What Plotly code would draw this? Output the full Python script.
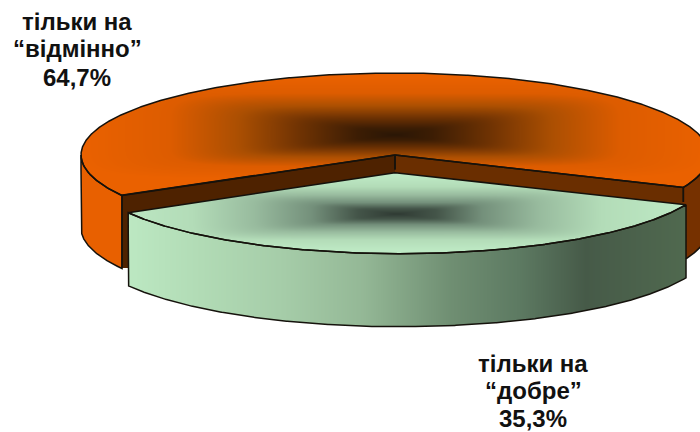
import numpy as np
import plotly.graph_objects as go

# data
category_lines = [["тільки на", "“відмінно”"], ["тільки на", "“добре”"]]
values = [64.7, 35.3]

# styling / geometry
W, H = 700, 432
START = 240.4
DEPTH = 73
OUT = "#15120c"

def arc(cx, cy, rx, ry, a0, a1, n=160):
    a = np.radians(np.linspace(a0, a1, n))
    return cx + rx * np.sin(a), cy - ry * np.cos(a)

def mask_poly(px, py, X, Y):
    inside = np.zeros(np.shape(X), bool)
    j = len(px) - 1
    for i in range(len(px)):
        xi, yi, xj, yj = px[i], py[i], px[j], py[j]
        if yi != yj:
            c = ((yi > Y) != (yj > Y)) & (X < (xj - xi) * (Y - yi) / (yj - yi) + xi)
            inside ^= c
        j = i
    return inside

xs = np.arange(W) + 0.5
ys = np.arange(H) + 0.5
X, Y = np.meshgrid(xs, ys)

fig = go.Figure()

def grad(px, py, Z, stops):
    m = mask_poly(px, py, X, Y)
    r, c = np.where(m)
    r0, r1, c0, c1 = r.min(), r.max() + 1, c.min(), c.max() + 1
    z = np.where(m, Z, np.nan)[r0:r1, c0:c1]
    fig.add_trace(go.Heatmap(x=xs[c0:c1], y=ys[r0:r1], z=np.round(z, 3), zmin=0, zmax=1,
                             colorscale=stops, showscale=False, hoverinfo="skip", zsmooth=False))

def flat(px, py, color):
    grad(px, py, np.zeros_like(X), [[0, color], [1, color]])

def dense(px, py, per=40):
    out_x, out_y = [], []
    for i in range(len(px) - 1):
        t = np.linspace(0, 1, per)
        out_x.append(px[i] + (px[i + 1] - px[i]) * t)
        out_y.append(py[i] + (py[i + 1] - py[i]) * t)
    return np.concatenate(out_x), np.concatenate(out_y)

def outline(px, py, occluders=(), width=1.5):
    dx, dy = dense(np.asarray(px, float), np.asarray(py, float), 6)
    keep = np.ones(dx.shape, bool)
    for ox, oy in occluders:
        keep &= ~mask_poly(ox, oy, dx, dy)
    dx = np.where(keep, dx, np.nan)
    dy = np.where(keep, dy, np.nan)
    fig.add_trace(go.Scatter(x=dx, y=dy, mode="lines", line=dict(color=OUT, width=width),
                             hoverinfo="skip", showlegend=False, connectgaps=False))

def soft(cxg, cyg, wg, up, down, p=6):
    h = np.where(Y < cyg, up, down)
    return np.clip(((np.abs(X - cxg) / wg) ** p + (np.abs(Y - cyg) / h) ** p) ** (1 / p), 0, 1)

# angles derived from the values
total = sum(values)
a_mid = START + values[0] / total * 360      # end of the first slice (clockwise from top)
a_mid_w = a_mid - 360

orange_top = [[0, "#2a1605"], [0.12, "#3c1d04"], [0.3, "#6e3203"], [0.5, "#ab4f02"],
              [0.72, "#dd5c00"], [1, "#ea6100"]]
green_top = [[0, "#2f3a33"], [0.14, "#445549"], [0.3, "#74907b"], [0.5, "#98bb9e"],
             [0.72, "#b3dcb8"], [1, "#bde9c4"]]
green_side = [[0, "#bce8c2"], [0.12, "#b2dcb6"], [0.28, "#a5cca8"], [0.42, "#94b896"],
              [0.58, "#6f8e72"], [0.7, "#5d7a62"], [0.82, "#465a48"], [1, "#50694f"]]

# --- geometry of the second (pulled-out) slice
gax, gay = 395, 172.7
gcx, gcy, grx, gry = 399.5, 172.7, 312, 81
fx, fy = arc(gcx, gcy, grx, gry, a_mid_w, START)
gs_x, gs_y = np.r_[fx, fx[::-1]], np.r_[fy, fy[::-1] + DEPTH]
gt_x, gt_y = np.r_[gax, fx, gax], np.r_[gay, fy, gay]
green_occ = [(gs_x, gs_y), (gt_x, gt_y)]

# --- first slice
cx, cy, rx, ry = 395, 155, 314, 82
ax, ay = arc(cx, cy, rx, ry, a_mid_w, a_mid_w, 1)
bx, by = arc(cx, cy, rx, ry, START, START, 1)

lx, ly = arc(cx, cy, rx, ry, START, 270)
lw_x, lw_y = np.r_[lx, lx[::-1]], np.r_[ly, ly[::-1] + DEPTH]
flat(lw_x, lw_y, "#e86000")
rx1, ry1 = arc(cx, cy, rx, ry, 90, a_mid_w)
rw_x, rw_y = np.r_[rx1, rx1[::-1]], np.r_[ry1, ry1[::-1] + DEPTH]
flat(rw_x, rw_y, "#763100")

c1x, c1y = np.array([cx, bx[0], bx[0], cx]), np.array([cy, by[0], by[0] + DEPTH, cy + DEPTH])
c2x, c2y = np.array([cx, ax[0], ax[0], cx]), np.array([cy, ay[0], ay[0] + DEPTH, cy + DEPTH])
flat(c1x, c1y, "#4e2200")
flat(c2x, c2y, "#6a2e00")

tx, ty = arc(cx, cy, rx, ry, START, a_mid)
ot_x, ot_y = np.r_[cx, tx, cx], np.r_[cy, ty, cy]
grad(ot_x, ot_y, soft(395, 135, 314, 58, 44), orange_top)

# --- second slice
x0, x1 = fx.min(), fx.max()
grad(gs_x, gs_y, np.clip((X - x0) / (x1 - x0), 0, 1), green_side)
grad(gt_x, gt_y, soft(397, 214, 285, 38, 36), green_top)

# --- outlines, hidden parts removed
for px, py in [(lw_x, lw_y), (rw_x, rw_y), (c1x, c1y), (c2x, c2y)]:
    outline(np.r_[px, px[0]], np.r_[py, py[0]], green_occ)
outline(ot_x, ot_y, green_occ)
outline(np.r_[gs_x, gs_x[0]], np.r_[gs_y, gs_y[0]])
outline(gt_x, gt_y)

def pct(v):
    return f"{v:.1f}%".replace(".", ",")

label_x = [77, 533]
label_y = [[21, 48, 77], [363, 390, 418]]
for lines, v, lxx, lys in zip(category_lines, values, label_x, label_y):
    for txt, yy in zip(lines + [pct(v)], lys):
        fig.add_annotation(x=lxx, y=yy, text=f"<b>{txt}</b>", showarrow=False,
                           font=dict(family="Liberation Sans, Arial, sans-serif", size=24, color="#111111"),
                           align="center", xanchor="center", yanchor="middle")

fig.update_layout(width=W, height=H, margin=dict(l=0, r=0, t=0, b=0),
                  paper_bgcolor="white", plot_bgcolor="white", showlegend=False,
                  xaxis=dict(range=[0, W], visible=False, fixedrange=True),
                  yaxis=dict(range=[H, 0], visible=False, fixedrange=True))
fig.write_html("out.html", config={"displayModeBar": False},
               post_script="document.body.style.margin='0';")
